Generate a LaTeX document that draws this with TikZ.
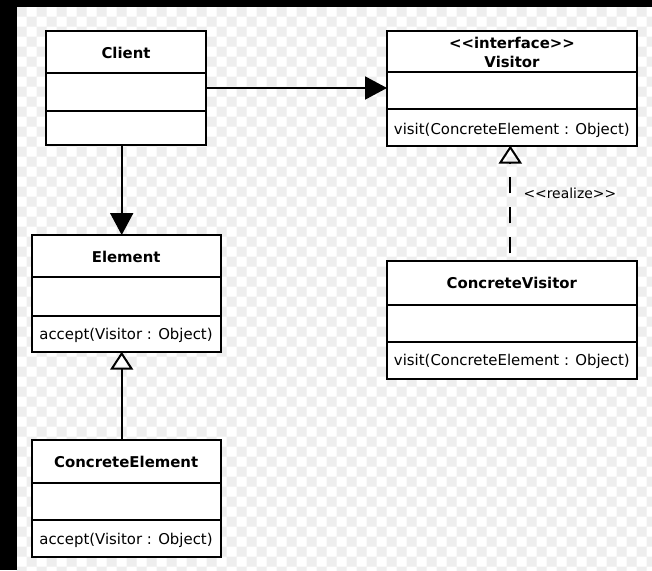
\documentclass[tikz,border=0pt]{standalone}
\usepackage{fontspec}
\setmainfont{DejaVu Sans}
\usetikzlibrary{arrows.meta}
\definecolor{checkc}{HTML}{EEEEEE}
\begin{document}
\begin{tikzpicture}[x=1pt,y=-1pt,
  cls/.style={draw=black, line width=2pt, fill=white, anchor=north west, inner sep=0pt, outer sep=0pt},
  divider/.style={line width=2pt},
  ttl/.style={font=\fontsize{14.9}{18.4}\selectfont\bfseries, align=center, inner sep=0pt},
  mth/.style={font=\fontsize{14.9}{18.4}\selectfont, inner sep=0pt},
  lbl/.style={font=\fontsize{13.9}{16}\selectfont, inner sep=0pt, anchor=west},
  assoc/.style={line width=2pt, -{Triangle[length=22pt,width=23pt]}},
  gen/.style={line width=2pt, -{Triangle[open,length=18pt,width=23pt]}},
  realize/.style={gen, dash pattern=on 16pt off 14pt, dash phase=22.8pt},
]
% background
\useasboundingbox (0,0) rectangle (652,570);
\fill[white] (0,0) rectangle (652,570);
\begin{scope}
  \clip (0,0) rectangle (652,570);
  \fill[checkc] \foreach \i in {0,...,63} { \foreach \j in {0,...,28} {
      ({16.7+10*\i},{6.7+20*\j+10*mod(\i,2)}) rectangle ++(10,10) } };
\end{scope}
\fill[black] (0,0) rectangle (652,6.7);
\fill[black] (0,0) rectangle (16.7,570);

% class boxes
\node[cls, minimum width=159.7pt, minimum height=114pt] (client) at (46,31) {};
\node[cls, minimum width=249.7pt, minimum height=114.8pt] (visitor) at (387,30.7) {};
\node[cls, minimum width=189pt, minimum height=116.7pt] (element) at (31.7,235) {};
\node[cls, minimum width=189pt, minimum height=116.7pt] (celement) at (31.7,440) {};
\node[cls, minimum width=249.7pt, minimum height=118.5pt] (cvisitor) at (387,260.5) {};

% compartments
\draw[divider] (client.west |- 0,72.7) -- (client.east |- 0,72.7);
\draw[divider] (client.west |- 0,110.7) -- (client.east |- 0,110.7);
\draw[divider] (visitor.west |- 0,71.7) -- (visitor.east |- 0,71.7);
\draw[divider] (visitor.west |- 0,109) -- (visitor.east |- 0,109);
\draw[divider] (element.west |- 0,277) -- (element.east |- 0,277);
\draw[divider] (element.west |- 0,315.7) -- (element.east |- 0,315.7);
\draw[divider] (celement.west |- 0,482.7) -- (celement.east |- 0,482.7);
\draw[divider] (celement.west |- 0,520) -- (celement.east |- 0,520);
\draw[divider] (cvisitor.west |- 0,305) -- (cvisitor.east |- 0,305);
\draw[divider] (cvisitor.west |- 0,342.3) -- (cvisitor.east |- 0,342.3);

% texts
\node[ttl] (clientT) at (126,52.5) {Client};
\node[ttl] (visitorT) at (512,52.5) {<\kern0pt<interface>\kern0pt>\\Visitor};
\node[ttl] (elementT) at (126.2,256.7) {Element};
\node[ttl] (celementT) at (126.2,461.7) {ConcreteElement};
\node[ttl] (cvisitorT) at (511.85,283) {ConcreteVisitor};
\node[mth] (visitorM) at (511.85,130) {visit(ConcreteElement : Object)};
\node[mth] (cvisitorM) at (511.85,361) {visit(ConcreteElement : Object)};
\node[mth] (elementM) at (126,335) {accept(Visitor : Object)};
\node[mth] (celementM) at (126,540) {accept(Visitor : Object)};
\node[lbl] (realizeL) at (523.3,193.3) {<\kern0pt<realize>\kern0pt>};

% connectors
\coordinate (ax) at (121.7,0);
\coordinate (bx) at (510.3,0);
\draw[assoc] (client.east) -- (visitor.west |- client.east);
\draw[assoc] (client.south -| ax) -- (element.north -| ax);
\draw[gen] (celement.north -| ax) -- (element.south -| ax);
\draw[realize] (cvisitor.north -| bx) -- (visitor.south -| bx);
\end{tikzpicture}
\end{document}
